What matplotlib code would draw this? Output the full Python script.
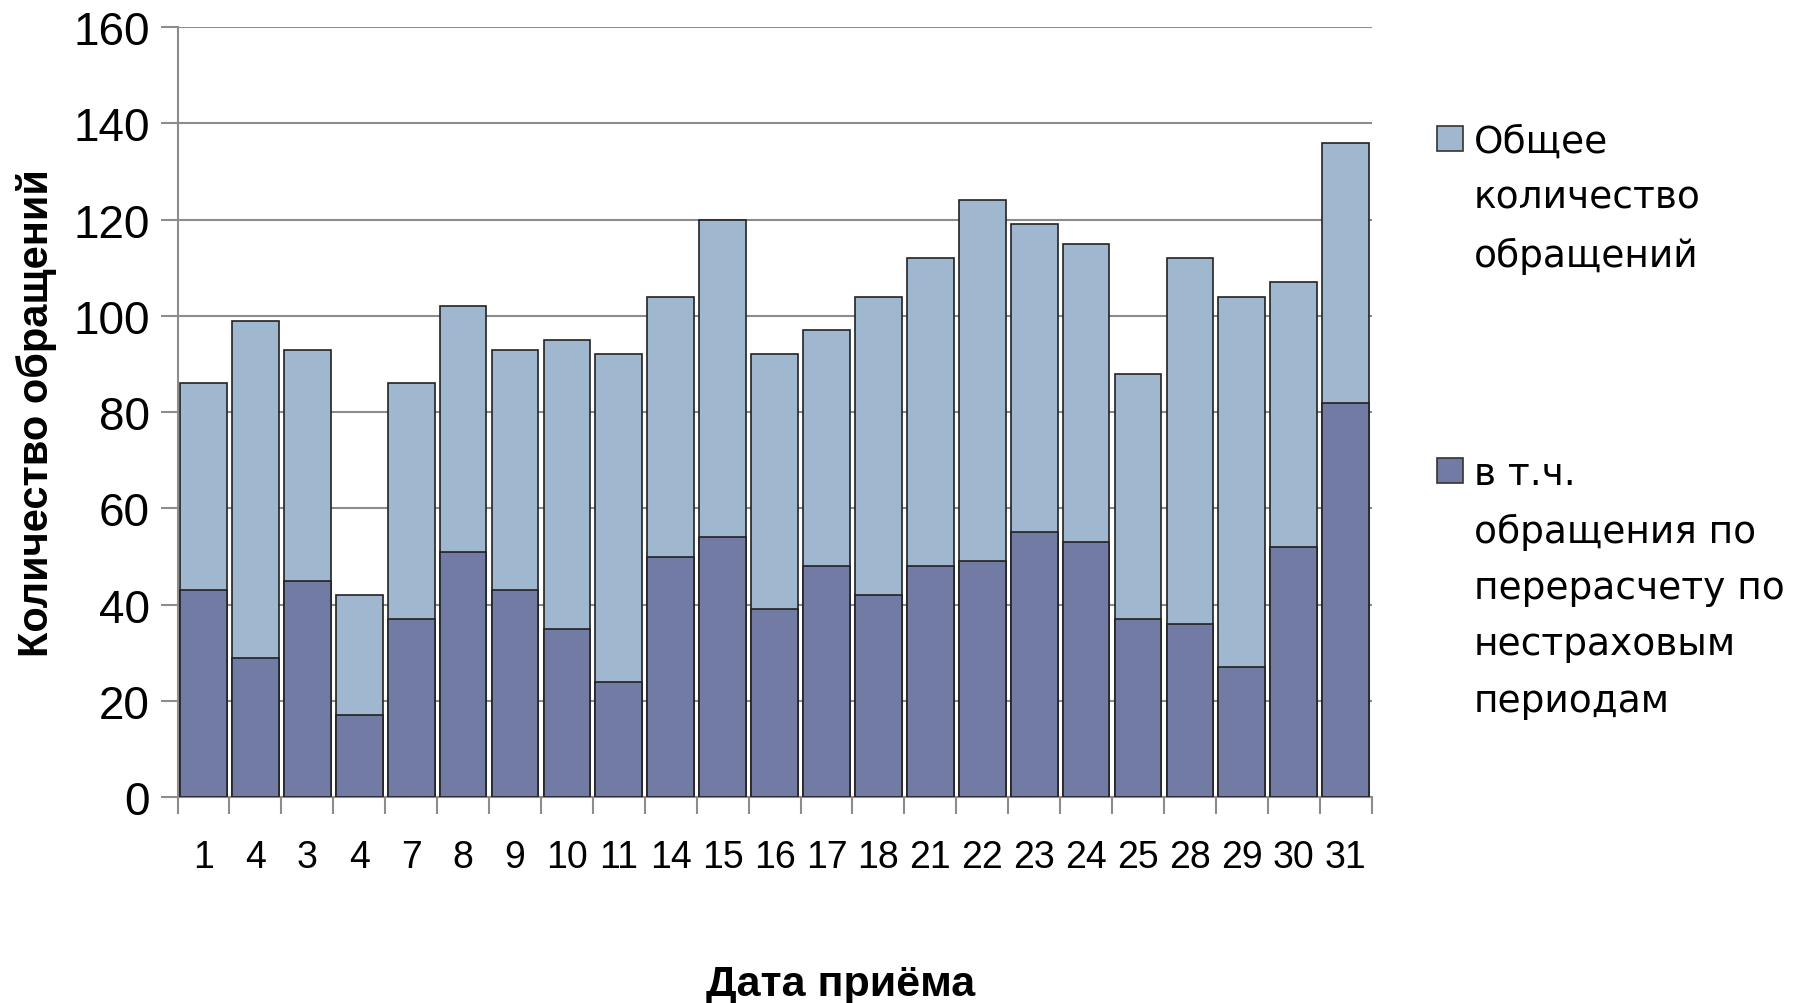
import matplotlib.pyplot as plt
from matplotlib.patches import Rectangle

# даты приёма и количество обращений
dates = ["1", "4", "3", "4", "7", "8", "9", "10", "11", "14", "15", "16",
         "17", "18", "21", "22", "23", "24", "25", "28", "29", "30", "31"]
total = [86, 99, 93, 42, 86, 102, 93, 95, 92, 104, 120, 92,
         97, 104, 112, 124, 119, 115, 88, 112, 104, 107, 136]
recalc = [43, 29, 45, 17, 37, 51, 43, 35, 24, 50, 54, 39,
          48, 42, 48, 49, 55, 53, 37, 36, 27, 52, 82]

label_total = "Общее\nколичество\nобращений"
label_recalc = "в т.ч.\nобращения по\nперерасчету по\nнестраховым\nпериодам"

c_light = "#A0B8CF"
c_dark = "#717BA3"
arial = ["Liberation Sans", "DejaVu Sans"]

fig = plt.figure(figsize=(17.93, 10.04), dpi=100)
ax = fig.add_axes([0.099, 0.205, 0.666, 0.767])

x = range(len(dates))
ax.bar(x, total, width=0.9, color=c_light, edgecolor="#222222", linewidth=1.2, zorder=2)
ax.bar(x, recalc, width=0.9, color=c_dark, edgecolor="#222222", linewidth=1.2, zorder=3)

ax.set_xlim(-0.5, len(dates) - 0.5)
ax.set_ylim(0, 160)
ax.set_yticks(range(0, 161, 20))
ax.yaxis.grid(True, color="#8c8c8c", linewidth=1.5, zorder=0)
ax.set_axisbelow(True)

# засечки между столбцами, подписи по центру
ax.set_xticks([i - 0.5 for i in range(len(dates) + 1)])
ax.set_xticklabels([])
ax.set_xticks(list(x), minor=True)
ax.set_xticklabels(dates, minor=True, fontsize=27, family=arial)
ax.tick_params(axis="x", which="major", direction="out", length=12, color="#8c8c8c", width=1.5)
ax.tick_params(axis="x", which="minor", length=0, pad=30)
ax.tick_params(axis="y", direction="out", length=12, color="#8c8c8c", width=1.5, pad=8)
for t in ax.get_yticklabels():
    t.set_fontsize(33)
    t.set_family(arial)

for s in ["top", "right"]:
    ax.spines[s].set_visible(False)
for s in ["left", "bottom"]:
    ax.spines[s].set_color("#8c8c8c")
    ax.spines[s].set_linewidth(1.5)

ax.set_ylabel("Количество обращений", fontsize=30, fontweight="bold", family=arial, va="center")
ax.yaxis.set_label_coords(-0.118, 0.5)
ax.set_xlabel("Дата приёма", fontsize=31, fontweight="bold", family=arial, va="center")
ax.xaxis.set_label_coords(0.555, -0.243)

# легенда справа
fig.patches.append(Rectangle((0.8017, 0.849), 0.014, 0.025, transform=fig.transFigure,
                             facecolor=c_light, edgecolor="#333333", linewidth=1.2))
fig.text(0.822, 0.876, label_total, fontsize=27, va="top", linespacing=1.72)
fig.patches.append(Rectangle((0.8017, 0.518), 0.014, 0.025, transform=fig.transFigure,
                             facecolor=c_dark, edgecolor="#333333", linewidth=1.2))
fig.text(0.822, 0.545, label_recalc, fontsize=27, va="top", linespacing=1.72)

plt.savefig("out.png", dpi=100)
